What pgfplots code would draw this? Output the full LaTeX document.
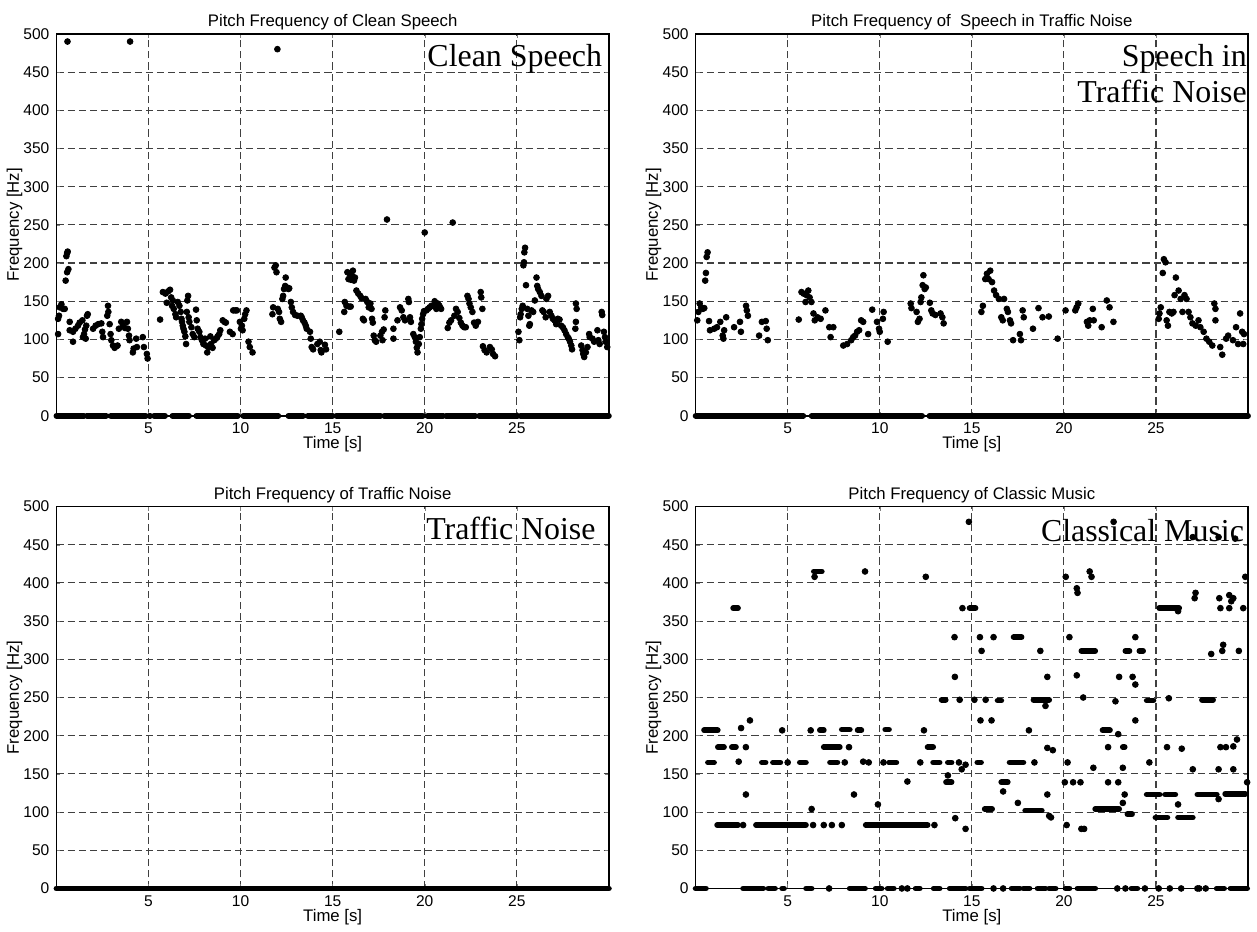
\documentclass[border=0pt]{standalone}
\usepackage{fontspec}
\setmainfont{Liberation Sans}
\newfontfamily\timesfont{Liberation Serif}
\usepackage{pgfplots}
\pgfplotsset{compat=1.18}
\usepgfplotslibrary{groupplots}

\pgfplotsset{
  pitch/.style={
    scale only axis, width=277pt, height=191.5pt,
    xmin=0, xmax=30, ymin=0, ymax=500,
    xtick={5,10,15,20,25}, ytick={0,50,...,500},
    font=\fontsize{8.4}{9}\selectfont,
    tick label style={font=\fontsize{7.8}{8}\selectfont},
    /pgf/number format/assume math mode=true,
    grid=major,
    major grid style={black!75, line width=0.55pt, dash pattern=on 3.6pt off 2pt},
    axis line style={line width=0.8pt},
    tick align=inside, major tick length=2pt,
    clip=false,
    title style={yshift=-7.5pt},
    every axis x label/.style={at={(axis description cs:0.5,-0.074)},anchor=center},
    every axis y label/.style={at={(axis description cs:-0.076,0.5)},rotate=90,anchor=center},
    xlabel={Time [s]}, ylabel={Frequency [Hz]},
  },
  dots/.style={only marks, mark=*, mark size=1.45pt, black},
  band/.style={black, line width=2.9pt, line cap=round, unbounded coords=jump, mark=none},
}
\tikzset{note/.style={font=\timesfont\fontsize{16}{18}\selectfont, inner sep=0pt, anchor=base east}}

\begin{document}
\begin{tikzpicture}
\begin{groupplot}[group style={group size=2 by 2, horizontal sep=43.5pt, vertical sep=45.5pt}, pitch]

% ---- clean speech
\nextgroupplot[title={Pitch Frequency of Clean Speech}]
\addplot[band] coordinates {
 (0,0)(1.5,0)(1.55,nan)(1.65,0)(2.7,0)(2.75,nan)(2.95,0)(4.85,0)(4.9,nan)(5.05,0)(5.1,0)(5.15,nan)
 (5.3,0)(5.9,0)(6.0,nan)(6.3,0)(7.2,0)(7.3,nan)(7.6,0)(9.85,0)(9.9,nan)(10.15,0)(12.05,0)(12.1,nan)
 (12.6,0)(13.4,0)(13.5,nan)(13.65,0)(15.0,0)(15.05,nan)(15.2,0)(17.6,0)(17.65,nan)(17.8,0)(19.9,0)(19.95,nan)
 (20.15,0)(21.0,0)(21.05,nan)(21.15,0)(22.75,0)(22.8,nan)(22.95,0)(25.05,0)(25.1,nan)(25.2,0)(30,0)
};
\addplot[dots] coordinates {
 (0.6,490)(4.0,490)(12.0,480)(17.95,257)(20.0,240)(21.52,253)
 (0.09,107)(0.09,127)(0.14,131)(0.18,142)(0.27,146)(0.36,140)(0.45,140)
 (0.5,177)(0.58,188)(0.65,192)(0.54,209)(0.58,213)(0.61,215)
 (0.72,123)(0.72,112)(0.9,110)(0.9,97)(1.03,114)(1.17,118)(1.26,122)(1.41,125)(1.44,103)(1.5,107)
 (1.55,113)(1.62,118)(1.66,131)(1.7,133)(1.59,101)
 (1.99,114)(2.13,118)(2.27,120)(2.44,121)(2.49,110)(2.53,103)
 (2.76,131)(2.8,144)(2.82,136)(2.89,120)(2.94,107)(2.98,99)(3.07,92)(3.16,89)(3.25,91)(3.32,92)
 (3.39,114)(3.52,123)(3.61,118)(3.72,115)(3.83,123)(3.88,114)(3.94,105)(3.97,99)
 (4.15,83)(4.19,88)(4.33,101)(4.37,90)(4.69,103)(4.75,90)(4.91,81)(4.95,75)
 (5.63,126)(5.78,162)(5.92,160)(5.99,148)(6.07,163)(6.17,165)(6.23,155)(6.28,144)(6.32,151)(6.37,140)
 (6.46,133)(6.5,129)(6.59,149)(6.68,144)(6.75,136)(6.79,127)(6.82,123)(6.86,118)(6.9,114)(6.95,110)
 (7.0,104)(7.04,94)(7.11,151)(7.15,157)(7.08,136)(7.18,129)(7.22,123)(7.33,116)(7.4,107)(7.49,103)
 (7.58,139)(7.62,125)(7.67,114)(7.76,110)(7.82,103)(7.9,99)(7.98,94)(8.07,101)(8.12,92)(8.19,83)
 (8.25,90)(8.36,104)(8.39,94)(8.48,89)(8.57,99)(8.66,101)(8.75,104)(8.84,107)(8.9,112)(9.03,125)
 (9.12,123)(9.2,122)(9.42,110)(9.57,107)(9.6,138)(9.71,138)(9.8,138)
 (9.96,123)(10.02,114)(10.07,118)(10.11,112)(10.2,127)(10.25,133)(10.32,138)(10.43,97)(10.5,90)(10.65,83)
 (11.73,133)(11.77,142)(11.84,194)(11.91,197)(11.95,188)(12.02,140)(12.09,136)(12.13,127)(12.2,123)
 (12.27,153)(12.31,157)(12.36,166)(12.42,170)(12.45,181)(12.53,168)(12.6,166)(12.64,167)(12.73,149)
 (12.78,142)(12.85,136)(12.96,132)(13.09,131)(13.27,131)(13.32,129)(13.39,125)(13.47,122)(13.54,118)
 (13.59,114)(13.77,110)(13.81,101)(13.86,90)(13.94,87)(14.17,94)(14.3,97)(14.35,86)(14.39,83)(14.58,93)(14.64,87)
 (15.36,110)(15.63,136)(15.66,149)(15.75,144)(15.89,143)(15.98,143)
 (15.8,188)(15.86,179)(15.93,186)(16.0,178)(16.07,183)(16.1,190)(16.16,177)(16.21,181)(16.29,164)
 (16.39,160)(16.5,157)(16.57,154)(16.64,127)(16.7,125)(16.79,153)(16.88,149)(16.96,142)(17.05,147)
 (17.11,140)(17.14,127)(17.18,122)(17.23,105)(17.29,99)(17.36,97)(17.59,105)(17.68,110)(17.71,99)
 (17.77,113)(17.82,129)(17.86,138)
 (18.3,114)(18.3,101)(18.52,125)(18.66,142)(18.75,138)(18.84,129)(18.93,125)(19.11,153)(19.14,149)
 (19.2,129)(19.25,123)(19.38,107)(19.46,103)(19.52,97)(19.57,89)(19.61,83)(19.68,94)(19.73,103)
 (19.79,114)(19.82,120)(19.86,127)(19.91,133)(19.96,137)(20.09,138)(20.18,140)(20.27,142)(20.36,144)
 (20.45,144)(20.54,150)(20.63,140)(20.71,147)(20.8,144)(20.89,140)
 (21.25,115)(21.34,122)(21.43,125)(21.61,131)(21.7,140)(21.79,136)(21.88,128)(21.96,122)(22.05,118)
 (22.14,116)(22.23,116)(22.32,157)(22.38,153)(22.43,147)(22.5,142)(22.59,136)(22.68,122)(22.77,118)
 (22.89,123)(23.04,162)(23.07,155)(23.13,140)(23.16,91)(23.25,86)(23.36,83)(23.54,90)(23.64,87)(23.71,81)(23.82,78)
 (25.09,110)(25.14,99)(25.18,129)(25.21,133)(25.27,140)(25.32,144)(25.36,197)(25.39,201)(25.41,214)
 (25.45,220)(25.5,171)(25.57,140)(25.63,131)(25.68,118)(25.71,120)(25.8,138)(25.89,136)(25.98,151)
 (26.07,181)(26.11,170)(26.16,166)(26.25,162)(26.34,157)(26.39,138)(26.46,136)(26.57,129)(26.61,153)
 (26.7,157)(26.79,136)(26.88,131)(26.96,127)(27.05,125)(27.14,120)(27.23,127)(27.32,126)(27.41,118)
 (27.5,116)(27.59,112)(27.68,107)(27.77,103)(27.82,101)(27.89,97)(27.96,92)(28.0,87)(28.21,147)
 (28.25,140)(28.21,123)(28.18,114)(28.5,92)(28.57,86)(28.61,81)(28.66,77)(28.75,83)(28.84,90)
 (28.93,107)(28.96,103)(29.11,101)(29.2,97)(29.38,112)(29.43,99)(29.5,94)(29.61,136)(29.64,132)
 (29.73,110)(29.79,103)(29.82,97)(29.91,90)
};
\node[note] at (axis cs:29.65,457) {Clean Speech};

% ---- speech in traffic noise
\nextgroupplot[title={Pitch Frequency of\ \ Speech in Traffic Noise}]
\addplot[band] coordinates {(0,0)(5.85,0)(6.0,nan)(6.3,0)(12.3,0)(12.4,nan)(12.7,0)(30,0)};
\addplot[dots] coordinates {
 (0.09,125)(0.15,136)(0.22,147)(0.3,142)(0.39,140)(0.47,141)
 (0.52,177)(0.56,187)(0.6,208)(0.65,214)
 (0.73,124)(0.78,112)(1.01,114)(1.16,116)(1.34,123)(1.47,105)(1.51,101)(1.55,112)(1.66,129)
 (2.09,116)(2.41,123)(2.46,110)(2.74,144)(2.78,138)(2.84,131)
 (3.45,105)(3.6,123)(3.81,124)(3.86,114)(3.92,99)
 (5.6,126)(5.75,162)(5.86,160)(5.97,149)(6.03,158)(6.12,164)(6.19,155)(6.29,149)(6.4,134)(6.47,125)
 (6.62,129)(6.79,127)(7.05,138)(7.26,116)(7.33,103)(7.48,116)
 (8.02,92)(8.23,94)(8.45,99)(8.56,103)(8.66,105)(8.77,110)(8.88,112)(8.99,125)(9.1,123)(9.37,107)
 (9.59,139)(9.85,123)(9.96,114)(10.0,110)(10.17,127)(10.21,136)(10.43,97)
 (11.68,147)(11.72,141)(12.0,136)(12.07,123)(12.16,127)(12.22,149)(12.26,155)(12.33,171)(12.37,184)
 (12.44,166)(12.5,168)(12.72,148)(12.8,138)(12.87,134)(13.02,132)(13.3,134)(13.4,129)(13.47,121)
 (15.52,136)(15.6,144)(15.73,179)(15.82,186)(15.91,179)(16.0,190)(16.1,175)(16.21,164)(16.32,158)
 (16.47,153)(16.6,129)(16.68,125)(16.75,153)(16.9,140)(16.96,136)(17.07,125)(17.13,121)(17.24,99)
 (17.61,107)(17.67,99)(17.76,138)(17.82,129)(18.32,114)(18.62,141)(18.84,129)(19.18,130)(19.66,101)(20.09,138)
 (20.62,138)(20.69,142)(20.78,147)(21.25,123)(21.32,118)(21.4,125)(21.57,140)(21.62,125)(22.05,116)
 (22.33,151)(22.48,142)(22.69,123)
 (25.15,127)(25.19,134)(25.26,142)(25.37,187)(25.43,205)(25.52,201)(25.58,125)(25.65,118)(25.73,136)
 (25.86,134)(25.95,136)(26.01,158)(26.08,181)(26.23,164)(26.34,153)(26.44,136)(26.55,158)(26.66,153)
 (26.77,136)(26.87,129)(26.98,121)(27.16,118)(27.31,125)(27.41,116)(27.59,110)(27.74,101)(27.89,97)
 (28.06,92)(28.17,147)(28.23,140)(28.23,125)(28.49,90)(28.6,80)(28.81,101)(28.92,105)(29.18,99)
 (29.35,116)(29.46,94)(29.57,134)(29.68,110)(29.74,94)(29.78,107)
};
\node[note] at (axis cs:29.95,457) {Speech in};
\node[note] at (axis cs:29.95,410) {Traffic Noise};

% ---- traffic noise
\nextgroupplot[title={Pitch Frequency of Traffic Noise}]
\addplot[band] coordinates {(0,0)(30,0)};
\node[note] at (axis cs:29.3,457) {Traffic Noise};

% ---- classical music
\nextgroupplot[title={Pitch Frequency of Classic Music}]
\addplot[band] coordinates {
 (0,0)(0.56,0)(0.6,nan)(2.58,0)(3.67,0)(3.7,nan)(3.95,0)(4.31,0)(4.4,nan)(4.7,0)(4.8,0)(4.9,nan)
 (6.0,0)(6.3,0)(6.4,nan)(8.37,0)(9.2,0)(9.3,nan)(9.78,0)(10.1,0)(10.2,nan)(10.43,0)(10.76,0)(10.8,nan)
 (11.95,0)(12.17,0)(12.2,nan)(12.93,0)(13.25,0)(13.3,nan)(13.8,0)(14.66,0)(14.7,nan)(14.88,0)(15.53,0)(15.6,nan)
 (17.16,0)(17.6,0)(17.7,nan)(17.8,0)(18.13,0)(18.2,nan)(18.57,0)(19.0,0)(19.1,nan)(19.2,0)(19.55,0)(19.6,nan)
 (20.09,0)(20.3,0)(20.4,nan)(20.74,0)(21.7,0)(21.8,nan)(23.67,0)(23.99,0)(24.1,nan)(28.3,0)(28.7,0)(28.8,nan)
 (29.05,0)(29.95,0)
};
\addplot[band] coordinates {
 (0.46,207)(1.2,207)(1.3,nan)(6.75,207)(6.96,207)(7.0,nan)(7.94,208)(8.37,208)(8.4,nan)(8.8,207)(9.0,207)(9.1,nan)
 (10.3,208)(10.5,208)(10.6,nan)(22.1,207)(22.5,207)(22.6,nan)
 (1.21,185)(1.54,185)(1.6,nan)(1.97,185)(2.19,185)(2.3,nan)(6.96,185)(7.83,185)(7.9,nan)(12.6,185)(12.9,185)(13.0,nan)
 (23.2,185)(23.3,185)(23.4,nan)
 (0.67,165)(1.0,165)(1.1,nan)(3.6,165)(3.8,165)(3.9,nan)(4.2,165)(4.6,165)(4.7,nan)(5.66,165)(5.99,165)(6.1,nan)
 (7.3,165)(7.7,165)(7.8,nan)(10.5,165)(10.9,165)(11.0,nan)(12.9,165)(13.25,165)(13.3,nan)(13.7,165)(13.9,165)(14.0,nan)
 (15.3,165)(15.5,165)(15.6,nan)(17.05,165)(17.8,165)(17.9,nan)
 (1.17,83)(2.3,83)(2.4,nan)(3.28,83)(5.99,83)(6.1,nan)(9.24,83)(12.6,83)(12.7,nan)
 (24.97,93)(25.62,93)(25.7,nan)(26.2,93)(27.0,93)(27.1,nan)
 (15.7,104)(16.1,104)(16.2,nan)(17.9,102)(18.8,102)(18.9,nan)(21.7,104)(23.0,104)(23.1,nan)(23.45,97)(23.7,97)(23.8,nan)
 (24.5,123)(25.2,123)(25.3,nan)(25.5,123)(26.05,123)(26.1,nan)(27.25,123)(28.3,123)(28.4,nan)(28.76,124)(29.85,124)(29.9,nan)
 (13.6,139)(13.9,139)(14.0,nan)(16.6,139)(16.95,139)(17.0,nan)
 (13.36,247)(13.58,247)(13.7,nan)(16.4,246)(16.6,246)(16.7,nan)(18.35,247)(19.2,247)(19.3,nan)(24.5,246)(24.86,246)(24.9,nan)
 (27.5,247)(28.1,247)(28.2,nan)
 (20.95,311)(21.7,311)(21.8,nan)(23.34,311)(23.56,311)(23.6,nan)(24.1,311)(24.3,311)(24.4,nan)
 (17.27,329)(17.7,329)(17.8,nan)
 (2.04,367)(2.3,367)(2.4,nan)(14.88,367)(15.2,367)(15.3,nan)(25.18,367)(26.26,367)(26.3,nan)
 (6.42,415)(6.85,415)
};
\addplot[dots] coordinates {
 (7.25,0)(11.2,0)(11.5,0)(16.18,0)(16.7,0)(22.9,0)(23.34,0)(24.4,0)(25.15,0)(25.75,0)(26.37,0)(27.25,0)(27.35,0)(27.7,0)
 (2.47,210)(4.7,207)(6.25,207)(12.4,207)(18.1,207)
 (2.73,185)(8.33,185)(19.1,184)(19.4,181)(22.4,185)(25.6,185)(26.4,183)(28.5,185)(28.8,185)(29.2,186)(29.4,195)
 (2.34,166)(5.0,165)(8.1,165)(9.1,166)(9.4,165)(10.2,165)(12.2,165)(14.3,165)(18.4,165)(20.2,165)(24.64,165)
 (2.58,83)(6.38,83)(6.96,83)(7.4,83)(7.94,83)(12.97,83)(20.15,83)(20.95,78)(21.1,78)
 (14.1,92)(19.2,95)(19.3,93)
 (6.3,104)(9.9,110)(17.5,112)(23.2,112)(26.2,110)
 (2.73,123)(8.6,123)(19.1,123)(23.3,123)(28.4,117)
 (11.5,140)(20.05,139)(20.5,139)(20.9,139)(22.4,139)(22.95,139)(29.95,139)(16.7,127)(13.7,148)
 (14.45,156)(14.66,162)(21.6,158)(23.2,158)(27.0,156)(28.4,156)(29.2,156)
 (2.95,220)(15.47,220)(16.07,220)(23.88,220)(21.05,250)(22.95,202)
 (14.34,247)(15.14,247)(15.75,247)(19.0,239)(22.8,245)(25.7,249)
 (14.08,277)(19.1,277)(20.7,279)(23.0,277)(23.73,277)(23.88,267)(14.66,78)
 (15.53,311)(18.72,311)(28.0,307)(28.6,311)(29.5,311)(28.65,319)
 (14.06,329)(15.44,329)(16.18,329)(20.3,329)(23.88,329)
 (14.49,367)(28.5,367)(28.98,367)(29.74,367)(26.2,363)
 (20.7,393)(20.74,387)(27.1,380)(27.15,387)(28.44,380)(28.98,384)(29.2,380)(29.09,376)
 (6.46,408)(9.2,415)(12.5,408)(20.1,408)(21.4,415)(21.5,408)(29.85,408)
 (14.84,480)(22.7,480)(27.0,460)(28.4,460)(29.3,458)
};
\node[note] at (axis cs:29.8,454) {Classical Music};
\end{groupplot}
\path (group c1r1.north west) ++(-26.5pt,17pt) coordinate (bbA);
\path (group c2r2.south east) ++(4.5pt,-16.5pt) coordinate (bbB);
\path (bbA) rectangle (bbB);
\end{tikzpicture}
\end{document}
